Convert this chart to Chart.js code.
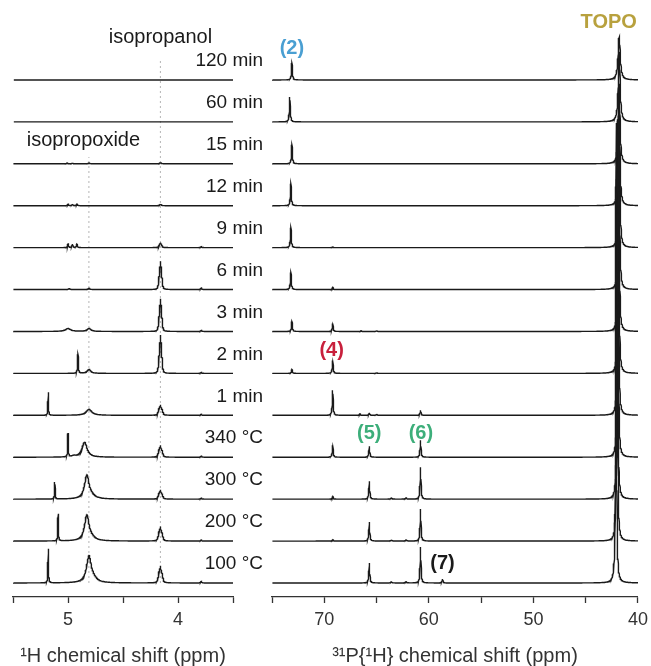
<!DOCTYPE html>
<html lang="en">
<head>
<meta charset="UTF-8">
<title>1H and 31P NMR spectra</title>
<script src="https://cdn.jsdelivr.net/npm/chart.js"></script>
<style>
  body { margin: 0; background: #fff; overflow: hidden; }
  #wrap { position: relative; width: 651px; height: 666px; overflow: hidden; }
  #hChart { position: absolute; left: 0; top: 0; }
  #pChart { position: absolute; left: 266px; top: 0; }
</style>
</head>
<body>
<div id="wrap">
  <canvas id="hChart" width="266" height="666"></canvas>
  <canvas id="pChart" width="388" height="666"></canvas>
</div>
<script>
// traces, top to bottom
const traceLabels = ['120 min', '60 min', '15 min', '12 min', '9 min', '6 min', '3 min',
                     '2 min', '1 min', '340 °C', '300 °C', '200 °C', '100 °C'];

// peaks: [ppm, height, half width (ppm), lines, J (ppm)]
const hPeaks = [
  [],
  [],
  [[5.01, 0.7, 0.006], [4.96, 0.7, 0.006], [4.81, 0.8, 0.008], [4.16, 1.2, 0.008]],
  [[5.0, 1.6, 0.005], [4.96, 1.6, 0.005], [4.92, 1.6, 0.005], [4.16, 1.5, 0.008]],
  [[5.0, 3.5, 0.005], [4.96, 3.5, 0.005], [4.92, 3.5, 0.005], [4.16, 4, 0.006, 3, 0.01], [3.79, 1, 0.006]],
  [[4.99, 0.8, 0.01], [4.81, 1.2, 0.01], [4.16, 20, 0.004, 7, 0.007], [3.79, 1.5, 0.006]],
  [[5.0, 3, 0.03], [4.81, 3, 0.022], [4.16, 23, 0.004, 7, 0.007], [3.79, 1, 0.006]],
  [[4.91, 19, 0.004], [4.81, 4, 0.02], [4.16, 27, 0.004, 7, 0.007], [3.79, 1, 0.006]],
  [[5.18, 23, 0.003], [4.81, 6, 0.032], [4.16, 8, 0.006, 5, 0.011], [3.79, 1, 0.006]],
  [[5.0, 23, 0.003], [4.95, 1, 0.02], [4.85, 15, 0.028], [4.16, 9, 0.006, 5, 0.011], [3.79, 1, 0.006]],
  [[5.12, 17, 0.003], [4.83, 23, 0.024], [4.79, 3, 0.04], [4.16, 7, 0.006, 5, 0.011], [3.79, 1, 0.006]],
  [[5.09, 27, 0.003], [4.83, 25, 0.024], [4.79, 3, 0.04], [4.16, 11, 0.006, 5, 0.011], [3.79, 1, 0.006]],
  [[5.18, 34, 0.003], [4.81, 26, 0.026], [4.77, 3, 0.04], [4.16, 13, 0.006, 5, 0.011], [3.79, 1.5, 0.006]]
];

const pPeaks = [
  [[73.1, 17, 0.05], [41.8, 43, 0.12]],
  [[73.3, 25, 0.05], [41.8, 70, 0.1]],
  [[73.1, 19, 0.05], [41.8, 80, 0.09]],
  [[73.2, 22, 0.05], [41.8, 95, 0.085]],
  [[73.2, 20, 0.05], [69.2, 0.8, 0.05], [41.8, 110, 0.08]],
  [[73.2, 17, 0.05], [69.2, 2.5, 0.05], [41.82, 130, 0.075]],
  [[73.1, 10, 0.05], [69.2, 8, 0.05], [66.5, 0.7, 0.05], [65.0, 0.7, 0.05], [41.85, 200, 0.06]],
  [[73.1, 4, 0.05], [69.2, 13, 0.05], [65.0, 0.7, 0.05], [41.87, 250, 0.055]],
  [[69.2, 25, 0.05], [66.6, 1.5, 0.05], [65.7, 2.5, 0.05], [65.0, 1.2, 0.05], [60.8, 5, 0.05], [41.9, 300, 0.05]],
  [[69.2, 12, 0.05], [65.7, 11, 0.05], [60.8, 17, 0.05], [41.93, 330, 0.048]],
  [[69.2, 3, 0.05], [65.7, 18, 0.05], [63.6, 1, 0.08], [62.2, 1.2, 0.08], [60.8, 32, 0.05], [41.97, 380, 0.045]],
  [[69.2, 1.5, 0.05], [65.7, 19, 0.05], [63.6, 0.8, 0.08], [62.2, 1, 0.08], [60.8, 32, 0.05], [42.0, 420, 0.043]],
  [[65.7, 20, 0.05], [63.6, 1, 0.08], [62.2, 1.2, 0.08], [60.8, 36, 0.05], [58.7, 4, 0.05], [42.1, 460, 0.042]]
];

const hRange = [3.5, 5.5];
const pRange = [40, 75];
const hTickLabels = [5, 4];
const pTickLabels = [70, 60, 50, 40];
const guideLines = [[4.81, 440], [4.16, 538]]; // ppm, top of dotted guide

const FONT = '"Liberation Sans", Arial, sans-serif';
const INK = '#1a1a1a';
const SPACING = 41.92;
const offsetOf = i => 14 + (traceLabels.length - 1 - i) * SPACING;

function binom(n) {
  let row = [1];
  for (let k = 0; k < n; k++) row = row.map((v, i) => v + (row[i - 1] || 0)).concat(1);
  return row;
}

function lineList(peaks) {
  const out = [];
  peaks.forEach(([c, h, w, n = 1, J = 0]) => {
    const coef = binom(n - 1);
    const top = Math.max(...coef);
    coef.forEach((k, i) => out.push([c + (i - (n - 1) / 2) * J, h * k / top, w]));
  });
  return out;
}

function spectrum(peaks, lo, hi, step, offset) {
  const lines = lineList(peaks);
  const xs = [];
  for (let x = lo; x <= hi + 1e-9; x += step) xs.push(x);
  lines.forEach(([c, , w]) => { for (let k = -10; k <= 10; k++) xs.push(c + k * w * 0.4); });
  xs.sort((a, b) => a - b);
  return xs.filter(x => x >= lo && x <= hi).map(x => {
    let y = 0;
    lines.forEach(([c, h, w]) => { y += h * w * w / ((x - c) * (x - c) + w * w); });
    return { x: x, y: offset + y };
  });
}

function spectraSets(peakSets, range, step) {
  return peakSets.map((pk, i) => ({
    data: spectrum(pk, range[0], range[1], step, offsetOf(i)),
    borderColor: INK,
    borderWidth: 1.4,
    pointRadius: 0,
    tension: 0,
    order: 0
  }));
}

function xAxis(range, step, labelled, title) {
  return {
    type: 'linear',
    reverse: true,
    min: range[0],
    max: range[1],
    border: { color: '#333', width: 1.3 },
    grid: { drawOnChartArea: false, tickLength: 6, color: '#333', tickWidth: 1.3 },
    ticks: {
      stepSize: step,
      autoSkip: false,
      maxRotation: 0,
      padding: 6,
      color: '#333',
      font: { family: FONT, size: 18 },
      callback: v => labelled.some(t => Math.abs(t - v) < 1e-6) ? String(v) : ''
    },
    title: {
      display: true,
      text: title,
      color: '#333',
      font: { family: FONT, size: 20 },
      padding: { top: 0, bottom: -2 }
    },
    afterFit: s => { s.height = 69; }
  };
}

const yAxis = { display: false, min: 0, max: 597 };

// time / temperature labels and the 1H annotations
const hText = {
  id: 'hText',
  afterDatasetsDraw(chart) {
    const { ctx, scales: { x, y } } = chart;
    ctx.save();
    ctx.fillStyle = INK;
    ctx.textBaseline = 'middle';
    ctx.textAlign = 'right';
    ctx.font = '19px ' + FONT;
    traceLabels.forEach((t, i) => ctx.fillText(t, 263, y.getPixelForValue(offsetOf(i)) - 19));
    ctx.textAlign = 'center';
    ctx.font = '20px ' + FONT;
    ctx.fillText('isopropanol', x.getPixelForValue(4.16), y.getPixelForValue(560));
    ctx.fillText('isopropoxide', x.getPixelForValue(4.86), y.getPixelForValue(457));
    ctx.restore();
  }
};

// compound labels on the 31P panel
const pText = {
  id: 'pText',
  afterDatasetsDraw(chart) {
    const { ctx, scales: { x, y } } = chart;
    const note = (t, ppm, v, color) => {
      ctx.fillStyle = color;
      ctx.fillText(t, x.getPixelForValue(ppm), y.getPixelForValue(v));
    };
    ctx.save();
    ctx.textAlign = 'center';
    ctx.textBaseline = 'middle';
    ctx.font = 'bold 20px ' + FONT;
    note('TOPO', 42.8, 575, '#b8a13e');
    note('(2)', 73.1, 549, '#4a9fd2');
    note('(4)', 69.3, 247, '#c8203c');
    note('(5)', 65.7, 164, '#3dae7a');
    note('(6)', 60.76, 164, '#3dae7a');
    note('(7)', 58.7, 34, INK);
    ctx.restore();
  }
};

const guides = guideLines.map(([ppm, top]) => ({
  data: [{ x: ppm, y: offsetOf(traceLabels.length - 1) }, { x: ppm, y: top }],
  borderColor: '#b5b5b5',
  borderWidth: 1,
  borderDash: [2, 3],
  pointRadius: 0,
  order: 10
}));

const common = {
  responsive: false,
  animation: false,
  events: [],
  plugins: { legend: { display: false }, tooltip: { enabled: false } }
};

new Chart(document.getElementById('hChart'), {
  type: 'line',
  data: { datasets: spectraSets(hPeaks, hRange, 0.0025).concat(guides) },
  options: Object.assign({}, common, {
    layout: { padding: { left: 13, right: 33, top: 0, bottom: 0 } },
    scales: {
      x: xAxis(hRange, 0.5, hTickLabels, '¹H chemical shift (ppm)'),
      y: yAxis
    }
  }),
  plugins: [hText]
});

// the "40" label plus tick padding sets the right gap (16 px), so this canvas runs a little past the window
new Chart(document.getElementById('pChart'), {
  type: 'line',
  data: { datasets: spectraSets(pPeaks, pRange, 0.02) },
  options: Object.assign({}, common, {
    layout: { padding: { left: 6, right: 13, top: 0, bottom: 0 } },
    scales: {
      x: xAxis(pRange, 5, pTickLabels, '³¹P{¹H} chemical shift (ppm)'),
      y: yAxis
    }
  }),
  plugins: [pText]
});
</script>
</body>
</html>
